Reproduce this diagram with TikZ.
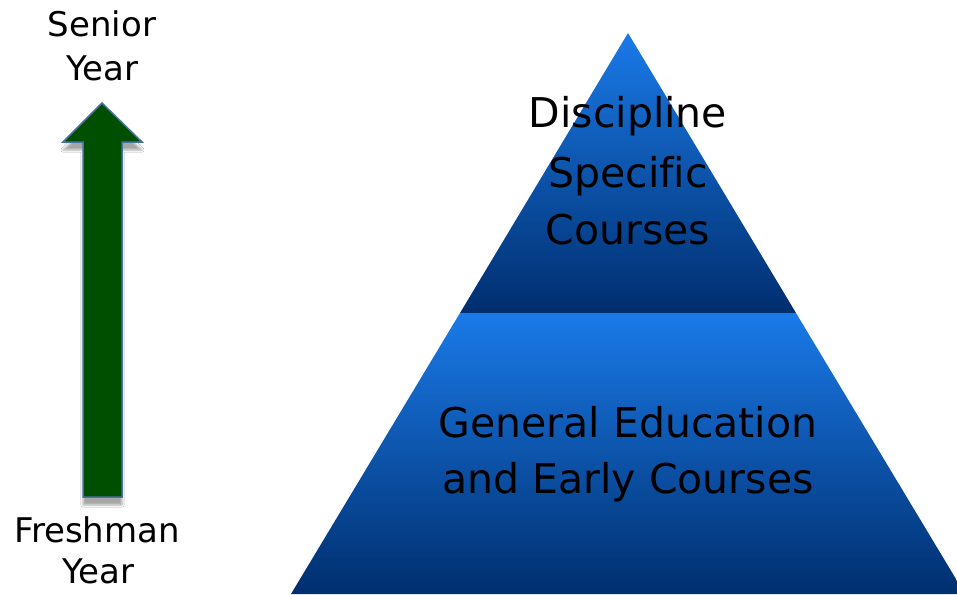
\documentclass[tikz,border=0pt]{standalone}
\usepackage{fontspec}
\setmainfont{DejaVu Sans}[Ligatures={NoCommon}]
\usetikzlibrary{shadows.blur}
\definecolor{pyrtop}{HTML}{1A7AE8}
\definecolor{pyrbot}{HTML}{002E6E}
\definecolor{arrgreen}{HTML}{004F00}
\definecolor{arredge}{HTML}{4A70A8}
\begin{document}
\begin{tikzpicture}[x=1pt,y=1pt,
  pyrtext/.style={font=\fontsize{41}{41}\selectfont, anchor=base, inner sep=0pt},
  sidetext/.style={font=\fontsize{34}{34}\selectfont, anchor=base, inner sep=0pt},
  pyrband/.style={top color=pyrtop, bottom color=pyrbot}]
\useasboundingbox (0,0) rectangle (957,-594);
\fill[white] (0,0) rectangle (957,-594);
% pyramid
\shade[pyrband] (628,-33) -- (796,-313) -- (460,-313) -- cycle;
\shade[pyrband] (460,-313) -- (796,-313) -- (965,-594) -- (291,-594) -- cycle;
% arrow
\draw[arredge, line width=1.5pt, fill=arrgreen,
  blur shadow={shadow yshift=-8pt, shadow xshift=0pt, shadow opacity=35}]
  (102,-103) -- (142,-142) -- (122,-142) -- (122,-497) -- (83,-497) -- (83,-142) -- (63,-142) -- cycle;
% texts
\node[pyrtext] (d1) at (628,-127) {Discipline};
\node[pyrtext] (d2) at (628,-187) {Specific};
\node[pyrtext] (d3) at (628,-244) {Courses};
\node[pyrtext] (g1) at (628,-437) {General Education};
\node[pyrtext] (g2) at (628,-493) {and Early Courses};
\node[sidetext] (s1) at (102,-37) {Senior};
\node[sidetext] (s2) at (102,-80) {Year};
\node[sidetext] (f1) at (97,-542) {Freshman};
\node[sidetext] (f2) at (98,-583) {Year};
\end{tikzpicture}
\end{document}
